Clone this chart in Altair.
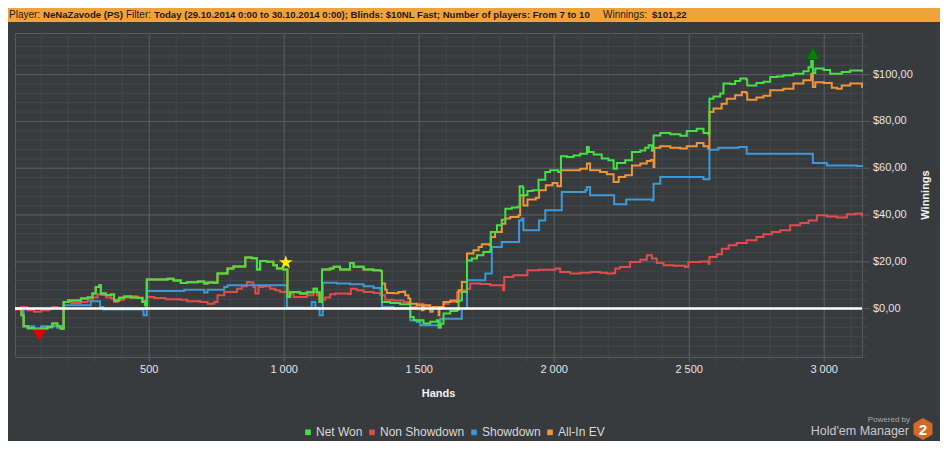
import altair as alt
import pandas as pd

# ---------------- data ----------------
series_names = ["Net Won", "Non Showdown", "Showdown", "All-In EV"]
series_colors = ["#45e043", "#e24b4b", "#3c99d8", "#ef9539"]

net_won = [(3, 0.0), (27, -2.9), (35, -7.6), (50, -8.4), (74, -9.0), (100, -8.5), (123, -8.0), (141, -6.4),
           (160, -7.6), (173, -8.6), (183, 2.8), (200, 3.5), (247, 4.3), (272, 4.7), (290, 6.4), (302, 9.2),
           (315, 10.0), (321, 6.4), (340, 5.8), (358, 6.0), (370, 3.5), (389, 4.6), (407, 5.2), (432, 4.7),
           (457, 4.5), (475, 2.8), (485, 1.4), (491, 12.4), (540, 12.4), (568, 12.8), (590, 12.0), (617, 10.9),
           (640, 11.3), (680, 11.6), (704, 10.7), (716, 11.2), (740, 11.0), (753, 15.0), (790, 17.1), (812, 18.0),
           (856, 21.8), (880, 21.5), (899, 16.7), (911, 20.3), (936, 20.0), (960, 18.5), (973, 17.1), (997, 16.7),
           (1012, 5.0), (1022, 7.1), (1047, 7.0), (1059, 6.4), (1084, 7.0), (1109, 8.5), (1121, 7.0), (1131, 2.8),
           (1140, 16.7), (1170, 17.1), (1183, 17.9), (1207, 16.7), (1244, 19.5), (1257, 17.9), (1294, 16.7),
           (1330, 16.4), (1356, 16.1), (1362, 2.8), (1393, 2.4), (1430, 1.9), (1460, 2.2), (1467, -3.6),
           (1480, -5.0), (1510, -5.0), (1516, -6.4), (1541, -5.6), (1565, -5.0), (1572, -8.1), (1580, -6.5),
           (1590, -2.1), (1615, -1.0), (1640, -0.6), (1646, 3.5), (1658, 7.1), (1677, 20.6), (1695, 21.4),
           (1714, 22.8), (1738, 24.2), (1763, 24.9), (1765, 32.7), (1788, 35.6), (1806, 38.0), (1819, 42.7),
           (1843, 43.2), (1864, 43.5), (1872, 52.3), (1884, 51.5), (1886, 48.4), (1901, 50.3), (1920, 50.6),
           (1942, 55.1), (1967, 58.4), (1985, 59.1), (2004, 59.1), (2015, 58.4), (2025, 65.1), (2047, 64.8),
           (2072, 65.4), (2096, 66.2), (2121, 69.1), (2128, 66.9), (2146, 65.9), (2176, 64.1), (2201, 63.4),
           (2220, 59.8), (2232, 62.2), (2263, 63.4), (2288, 66.9), (2319, 67.6), (2337, 68.8), (2350, 69.8),
           (2362, 67.5), (2368, 74.0), (2393, 75.0), (2430, 74.5), (2467, 73.9), (2491, 75.9), (2528, 76.9),
           (2553, 75.0), (2571, 74.6), (2575, 89.7), (2590, 90.7), (2615, 91.9), (2627, 96.2), (2652, 96.0),
           (2670, 97.3), (2689, 98.3), (2711, 97.9), (2715, 95.4), (2749, 96.4), (2775, 97.0), (2800, 99.0),
           (2825, 99.2), (2849, 99.7), (2886, 100.4), (2923, 101.5), (2942, 103.2), (2952, 106.4), (2958, 100.7),
           (2967, 102.6), (2998, 102.0), (3022, 100.4), (3047, 100.4), (3065, 101.1), (3096, 101.8),
           (3121, 101.8), (3140, 101.22)]

non_showdown = [(3, -0.4), (25, 0.7), (49, -0.7), (74, -1.4), (99, -0.7), (130, 0.0), (142, 0.7), (160, 0.2),
                (179, -0.4), (185, 2.8), (210, 2.4), (247, 2.8), (272, 3.5), (290, 4.7), (309, 6.1), (323, 5.8),
                (340, 4.8), (358, 4.3), (370, 2.8), (383, 3.8), (407, 4.7), (432, 5.3), (457, 4.7), (475, 3.5),
                (491, 5.0), (519, 4.5), (560, 4.0), (617, 3.8), (640, 3.1), (689, 2.8), (716, 2.1), (741, 2.8),
                (753, 5.7), (778, 7.1), (800, 7.1), (825, 8.5), (843, 9.5), (862, 11.4), (874, 11.2), (886, 9.2),
                (893, 6.4), (905, 9.2), (923, 9.5), (948, 8.5), (967, 7.8), (985, 7.1), (1004, 7.3), (1012, 5.0),
                (1022, 6.4), (1035, 5.0), (1059, 5.0), (1084, 5.7), (1109, 7.1), (1121, 5.7), (1133, 3.8),
                (1152, 4.7), (1170, 6.1), (1189, 6.4), (1238, 6.2), (1247, 8.5), (1269, 7.8), (1294, 7.1),
                (1331, 6.7), (1356, 5.7), (1374, 3.8), (1405, 3.5), (1442, 2.8), (1467, 0.7), (1491, 2.1),
                (1516, 0.7), (1541, 0.0), (1565, 0.4), (1590, 2.1), (1609, 2.8), (1640, 7.1), (1652, 7.8),
                (1677, 8.5), (1689, 10.7), (1726, 10.5), (1763, 10.0), (1805, 10.0), (1811, 7.8), (1815, 13.5),
                (1849, 14.2), (1901, 16.4), (1944, 16.6), (2004, 17.1), (2022, 15.6), (2059, 15.0), (2096, 15.3),
                (2133, 15.6), (2170, 15.3), (2195, 15.0), (2220, 15.2), (2226, 17.1), (2244, 17.8), (2281, 19.9),
                (2319, 20.9), (2343, 22.8), (2362, 21.4), (2380, 19.5), (2405, 18.5), (2442, 18.3), (2485, 17.8),
                (2497, 19.9), (2541, 20.1), (2571, 19.2), (2575, 22.1), (2602, 23.2), (2621, 25.6), (2646, 27.1),
                (2676, 28.0), (2713, 29.2), (2749, 30.6), (2775, 31.8), (2806, 32.7), (2837, 33.5), (2874, 35.6),
                (2911, 36.6), (2942, 37.7), (2973, 39.9), (3010, 39.4), (3047, 38.9), (3084, 40.3), (3115, 40.6),
                (3140, 39.4)]

showdown = [(3, 0.0), (35, -7.6), (74, -8.4), (100, -7.6), (141, -7.6), (160, -8.2), (183, 1.4), (284, 3.1),
            (318, 0.7), (330, -0.4), (479, -2.9), (491, 7.5), (630, 8.1), (700, 8.1), (704, 6.9), (716, 8.1),
            (778, 9.2), (790, 10.0), (1010, 0.4), (1102, 2.8), (1115, 0.4), (1131, -2.9), (1143, 11.0),
            (1195, 10.7), (1244, 10.4), (1294, 9.5), (1331, 8.8), (1356, 7.8), (1362, 0.7), (1405, 0.0),
            (1467, -5.0), (1491, -5.7), (1504, -7.1), (1572, -8.1), (1578, -4.3), (1658, 0.0), (1677, 12.1),
            (1745, 15.0), (1769, 26.3), (1806, 28.5), (1870, 37.7), (1880, 38.5), (1886, 33.5), (1944, 37.7),
            (1967, 42.0), (2028, 49.8), (2115, 50.6), (2121, 52.0), (2133, 48.4), (2222, 44.6), (2267, 46.6),
            (2362, 46.2), (2368, 53.4), (2393, 56.2), (2553, 55.3), (2575, 67.9), (2608, 68.8), (2683, 69.1),
            (2713, 66.2), (2958, 62.2), (3010, 61.2), (3121, 60.9), (3140, 60.5)]

all_in_ev = [(3, 0.0), (27, -2.9), (35, -7.6), (50, -8.4), (74, -9.0), (100, -8.5), (123, -8.0), (141, -6.4),
             (160, -7.6), (173, -8.6), (183, 2.8), (200, 3.5), (247, 4.3), (272, 4.7), (290, 6.4), (302, 9.2),
             (315, 10.0), (321, 6.4), (340, 5.8), (358, 6.0), (370, 3.5), (389, 4.6), (407, 5.2), (432, 4.7),
             (457, 4.5), (475, 2.8), (485, 1.4), (491, 12.4), (540, 12.4), (568, 12.8), (590, 12.0), (617, 10.9),
             (640, 11.3), (680, 11.6), (704, 10.7), (716, 11.2), (740, 11.0), (753, 15.0), (790, 17.1), (812, 18.0),
             (856, 21.8), (880, 21.5), (899, 16.7), (911, 20.3), (936, 20.0), (960, 18.5), (973, 17.1), (997, 16.7),
             (1012, 5.0), (1022, 7.1), (1047, 7.0), (1059, 6.4), (1084, 7.0), (1109, 8.5), (1121, 7.0), (1131, 2.8),
             (1140, 16.7), (1170, 17.1), (1183, 17.9), (1207, 16.7), (1244, 19.5), (1257, 17.9), (1294, 16.7),
             (1330, 16.4), (1356, 16.1), (1362, 10.7), (1374, 8.0), (1380, 6.7), (1405, 6.5), (1423, 7.1),
             (1442, 7.3), (1448, 5.7), (1460, 4.3), (1467, 2.1), (1491, 1.4), (1510, -0.7), (1516, 1.4),
             (1541, -1.4), (1550, 0.7), (1572, -2.9), (1575, 0.7), (1590, 2.8), (1615, 3.5), (1640, 2.8),
             (1646, 7.8), (1658, 11.4), (1677, 23.5), (1701, 24.9), (1720, 26.3), (1732, 27.5), (1760, 27.2),
             (1765, 30.6), (1781, 32.7), (1806, 36.3), (1819, 38.5), (1837, 39.1), (1868, 39.9), (1874, 48.4),
             (1886, 44.1), (1901, 46.6), (1932, 47.4), (1944, 50.6), (1969, 52.7), (1994, 53.7), (2012, 52.3),
             (2025, 59.1), (2059, 59.1), (2096, 59.8), (2121, 62.0), (2133, 59.1), (2170, 58.4), (2195, 57.4),
             (2220, 54.1), (2239, 56.2), (2263, 57.0), (2288, 61.2), (2319, 62.0), (2343, 63.1), (2358, 63.5),
             (2368, 60.5), (2371, 68.8), (2393, 69.4), (2430, 68.8), (2467, 68.4), (2491, 69.4), (2528, 70.8),
             (2553, 69.4), (2571, 68.4), (2575, 84.0), (2590, 85.5), (2620, 87.6), (2639, 89.7), (2670, 91.2),
             (2695, 92.6), (2711, 92.0), (2715, 89.3), (2749, 90.2), (2775, 91.0), (2800, 93.3), (2831, 93.3),
             (2849, 94.0), (2886, 96.2), (2923, 97.6), (2946, 97.6), (2952, 100.4), (2958, 94.7), (2967, 96.8),
             (2998, 96.4), (3028, 94.4), (3047, 94.0), (3065, 95.4), (3096, 96.2), (3121, 96.2), (3140, 94.4)]

# special markers (hands, winnings)
marker_min = (93, -11.4)
marker_star = (1006, 19.7)
marker_max = (2958, 109.0)

# axis ticks
hands_label_ticks = [500, 1000, 1500, 2000, 2500, 3000]
hands_minor_ticks = list(range(100, 3200, 100))
win_label_ticks = [0, 20, 40, 60, 80, 100]
win_minor_ticks = list(range(-20, 120, 4))

header_normal = [("Player:", -6), ("Filter:", 111), ("Winnings:", 588)]
header_bold = [("NeNaZavode (PS)", 28),
               ("Today (29.10.2014 0:00 to 30.10.2014 0:00); Blinds: $10NL Fast; Number of players: From 7 to 10", 139),
               ("$101,22", 637)]

# ---------------- chart ----------------
W, H = 847, 324
BG = "#383b3e"
MINOR = "#45484b"
MAJOR = "#595c5f"
FONT = "Liberation Sans"
LABEL_C = "#e4e4e4"

STAR = ("M0,-1L0.2245,-0.309L0.951,-0.309L0.363,0.118L0.588,0.809L0,0.382L-0.588,0.809"
        "L-0.363,0.118L-0.951,-0.309L-0.2245,-0.309Z")
HEXAGON = "M0,-1L0.866,-0.5L0.866,0.5L0,1L-0.866,0.5L-0.866,-0.5Z"


def to_df(pairs, name):
    return pd.DataFrame({"hands": [p[0] for p in pairs],
                         "winnings": [p[1] for p in pairs],
                         "series": name})


one = pd.DataFrame({"k": [0]})

x_scale = alt.Scale(domain=[3, 3140], nice=False, zero=False)
y_scale = alt.Scale(domain=[-20.7, 117.8], nice=False, zero=False)
color_scale = alt.Scale(domain=series_names, range=series_colors)

legend = alt.Legend(orient="none", legendX=287, legendY=393, direction="horizontal", title=None,
                    symbolType="square", symbolSize=7, symbolStrokeWidth=3, labelFont=FONT,
                    labelFontSize=12, labelColor="#d8d8d8", columnPadding=1, labelOffset=2, padding=0)

header_bar = alt.Chart(one).mark_rect(color="#f0a23c").encode(
    x=alt.value(-7), x2=alt.value(930), y=alt.value(-25), y2=alt.value(-11))

header_layers = []
for txt, px in header_normal:
    header_layers.append(alt.Chart(one).mark_text(align="left", baseline="middle", font=FONT, fontSize=10,
                                                  color="#1c1c1c").encode(
        x=alt.value(px), y=alt.value(-18), text=alt.value(txt)))
for txt, px in header_bold:
    header_layers.append(alt.Chart(one).mark_text(align="left", baseline="middle", font=FONT, fontSize=9.6,
                                                  fontWeight="bold", color="#1c1c1c").encode(
        x=alt.value(px), y=alt.value(-18), text=alt.value(txt)))

vminor = alt.Chart(pd.DataFrame({"hands": hands_minor_ticks})).mark_rule(color=MINOR).encode(
    x=alt.X("hands:Q", scale=x_scale, axis=None), y=alt.value(0), y2=alt.value(H + 5))
vmajor = alt.Chart(pd.DataFrame({"hands": hands_label_ticks})).mark_rule(color=MAJOR).encode(
    x=alt.X("hands:Q", scale=x_scale, axis=None), y=alt.value(0), y2=alt.value(H + 5))
hminor = alt.Chart(pd.DataFrame({"w": win_minor_ticks})).mark_rule(color=MINOR).encode(
    y=alt.Y("w:Q", scale=y_scale, axis=None), x=alt.value(0), x2=alt.value(W + 5))
hmajor = alt.Chart(pd.DataFrame({"w": win_label_ticks})).mark_rule(color=MAJOR).encode(
    y=alt.Y("w:Q", scale=y_scale, axis=None), x=alt.value(0), x2=alt.value(W + 8))

# axis labels and titles, positioned through the scales
x_labels = alt.Chart(pd.DataFrame({"hands": hands_label_ticks})).transform_calculate(
    label="replace(format(datum.hands, ','), ',', ' ')"
).mark_text(align="center", baseline="middle", font=FONT, fontSize=11, color=LABEL_C).encode(
    x=alt.X("hands:Q", scale=x_scale, axis=None), y=alt.value(H + 13), text="label:N")
y_labels = alt.Chart(pd.DataFrame({"w": win_label_ticks})).transform_calculate(
    label="'$' + replace(format(datum.w, '.2f'), '.', ',')"
).mark_text(align="left", baseline="middle", font=FONT, fontSize=11, color=LABEL_C).encode(
    y=alt.Y("w:Q", scale=y_scale, axis=None), x=alt.value(W + 11), text="label:N")
x_title = alt.Chart(one).mark_text(align="center", baseline="middle", font=FONT, fontSize=11,
                                   fontWeight="bold", color="#f2f2f2").encode(
    x=alt.value(W / 2), y=alt.value(H + 37), text=alt.value("Hands"))
y_title = alt.Chart(one).mark_text(align="center", baseline="middle", font=FONT, fontSize=11,
                                   fontWeight="bold", color="#f2f2f2", angle=270).encode(
    x=alt.value(W + 64), y=alt.value(H / 2), text=alt.value("Winnings"))


def line_layer(pairs, name):
    return alt.Chart(to_df(pairs, name)).mark_line(interpolate="step-after", strokeWidth=2).encode(
        x=alt.X("hands:Q", scale=x_scale, axis=None),
        y=alt.Y("winnings:Q", scale=y_scale, axis=None),
        color=alt.Color("series:N", scale=color_scale, legend=legend))


zero_line = alt.Chart(pd.DataFrame({"w": [0]})).mark_rule(color="white", strokeWidth=2.5).encode(
    y=alt.Y("w:Q", scale=y_scale, axis=None), x=alt.value(0), x2=alt.value(W))


def marker(pt, shape, fill, size, stroke=None):
    kw = dict(shape=shape, filled=True, fill=fill, size=size, opacity=1)
    if stroke:
        kw.update(stroke=stroke, strokeWidth=1)
    else:
        kw.update(strokeWidth=0)
    return alt.Chart(pd.DataFrame({"hands": [pt[0]], "winnings": [pt[1]]})).mark_point(**kw).encode(
        x=alt.X("hands:Q", scale=x_scale, axis=None), y=alt.Y("winnings:Q", scale=y_scale, axis=None))


powered = alt.Chart(one).mark_text(align="right", baseline="middle", font=FONT, fontSize=8,
                                   color="#a8a8a8").encode(x=alt.value(895), y=alt.value(387),
                                                            text=alt.value("Powered by"))
hem = alt.Chart(one).mark_text(align="right", baseline="middle", font=FONT, fontSize=12.5,
                               color="#c8c8c8").encode(x=alt.value(894), y=alt.value(398),
                                                        text=alt.value("Hold'em Manager"))
logo = alt.Chart(one).mark_point(shape=HEXAGON, filled=True, fill="#d2692a", size=480, opacity=1,
                                 strokeWidth=0).encode(x=alt.value(908), y=alt.value(396))
logo2 = alt.Chart(one).mark_text(align="center", baseline="middle", font=FONT, fontSize=15,
                                 fontWeight="bold", color="white").encode(
    x=alt.value(908), y=alt.value(397), text=alt.value("2"))

chart = alt.layer(
    header_bar, *header_layers,
    vminor, hminor, vmajor, hmajor,
    line_layer(non_showdown, "Non Showdown"),
    line_layer(showdown, "Showdown"),
    line_layer(all_in_ev, "All-In EV"),
    line_layer(net_won, "Net Won"),
    zero_line,
    marker(marker_min, "triangle-down", "#e80000", 170),
    marker(marker_star, STAR, "#ffee00", 215),
    marker(marker_max, "triangle-up", "#0c7d0c", 190, stroke="#0a5a0a"),
    x_labels, y_labels, x_title, y_title,
    powered, hem, logo, logo2,
).properties(
    width=W, height=H,
    padding={"left": 7, "top": 25, "right": 78, "bottom": 84},
    autosize=alt.AutoSizeParams(type="none"),
    background=BG,
).configure_view(stroke=MAJOR, strokeWidth=1)

chart.save("out.html", embed_options={"renderer": "svg", "actions": False})
